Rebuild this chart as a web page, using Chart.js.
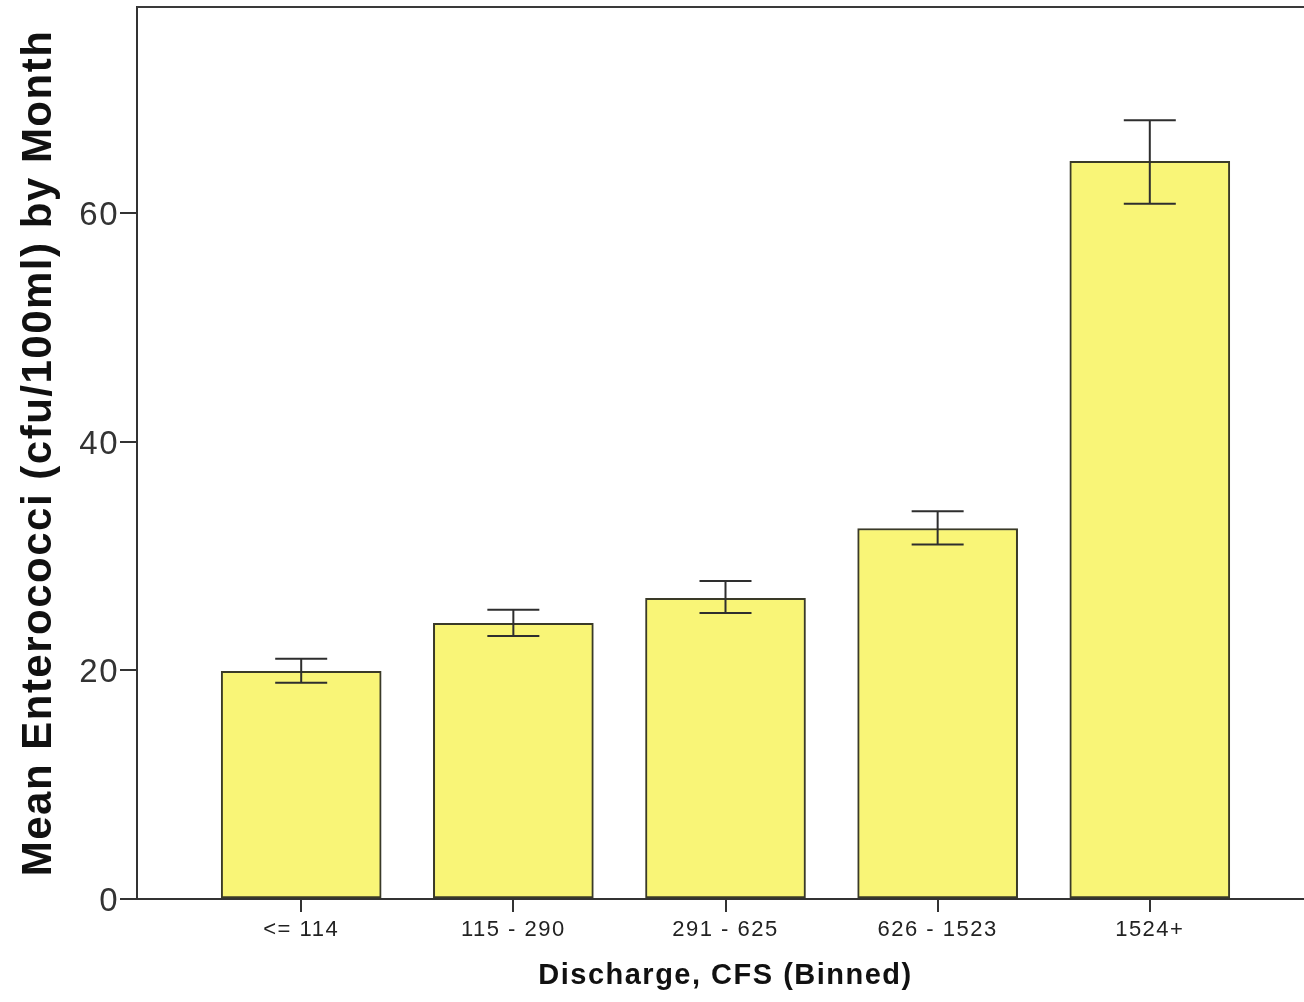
<!DOCTYPE html>
<html>
<head>
<meta charset="utf-8">
<script src="https://cdn.jsdelivr.net/npm/chart.js@4/dist/chart.umd.min.js"></script>
<style>
  html, body { margin: 0; padding: 0; background: #fff; overflow: hidden; }
  #wrap { position: relative; width: 1330px; height: 1002px; }
</style>
</head>
<body>
<div id="wrap"><canvas id="c"></canvas></div>
<script>
// ---- data ----
const categories = ['<= 114', '115 - 290', '291 - 625', '626 - 1523', '1524+'];
const meanValues = [19.9, 24.1, 26.3, 32.4, 64.5];
const errLow     = [18.9, 23.0, 25.0, 31.0, 60.8];
const errHigh    = [21.0, 25.3, 27.8, 33.9, 68.1];
const yTicks     = [0, 20, 40, 60];
const yTitle = 'Mean Enterococci (cfu/100ml) by Month';
const xTitle = 'Discharge, CFS (Binned)';

const AXIS = '#333333';

const spacingPlugin = {
  id: 'spacing',
  beforeDraw(chart) { chart.ctx.letterSpacing = '1.5px'; },
  beforeDatasetsDraw(chart) { chart.ctx.letterSpacing = '0px'; }
};

const framePlugin = {
  id: 'frame',
  afterDatasetsDraw(chart) {
    const { ctx, chartArea, scales } = chart;
    ctx.save();
    ctx.strokeStyle = '#3a3a3a';
    ctx.lineWidth = 2;
    ctx.beginPath();
    ctx.moveTo(chartArea.left, chartArea.top);
    ctx.lineTo(chartArea.right, chartArea.top);
    ctx.stroke();
    ctx.strokeStyle = '#2e2e2e';
    ctx.lineWidth = 2;
    const cap = 26;
    meanValues.forEach((v, i) => {
      const x = scales.x.getPixelForValue(i);
      const yl = scales.y.getPixelForValue(errLow[i]);
      const yh = scales.y.getPixelForValue(errHigh[i]);
      ctx.beginPath();
      ctx.moveTo(x, yl); ctx.lineTo(x, yh);
      ctx.moveTo(x - cap, yl); ctx.lineTo(x + cap, yl);
      ctx.moveTo(x - cap, yh); ctx.lineTo(x + cap, yh);
      ctx.stroke();
    });
    ctx.restore();
  }
};

new Chart(document.getElementById('c'), {
  type: 'bar',
  data: {
    datasets: [{
      data: meanValues.map((v, i) => ({ x: i, y: v })),
      backgroundColor: '#F9F577',
      borderColor: '#3a3a28',
      borderWidth: 2,
      borderSkipped: false,
      barThickness: 160
    }]
  },
  options: {
    responsive: true,
    maintainAspectRatio: false,
    animation: false,
    layout: { padding: { left: 0, right: 16, top: 7, bottom: 0 } },
    plugins: { legend: { display: false }, tooltip: { enabled: false }, title: { display: false } },
    scales: {
      x: {
        type: 'linear',
        offset: false,
        min: -0.774,
        max: 4.774,
        afterBuildTicks: s => { s.ticks = categories.map((_, i) => ({ value: i })); },
        afterFit: s => { s.height = 103; s.paddingLeft = 0; s.paddingRight = 0; },
        ticks: {
          callback: v => categories[v] ?? '',
          color: '#222',
          font: { family: 'Liberation Sans, Arial, sans-serif', size: 22 },
          padding: 5,
          maxRotation: 0,
          autoSkip: false
        },
        grid: { offset: false, drawOnChartArea: false, tickLength: 13, color: AXIS, lineWidth: 2 },
        border: { display: true, color: AXIS, width: 2 },
        title: {
          display: true,
          text: xTitle,
          color: '#111',
          font: { family: 'Liberation Sans, Arial, sans-serif', size: 29, weight: 'bold' },
          padding: { top: 0, bottom: 9 }
        }
      },
      y: {
        min: 0,
        max: 78,
        afterBuildTicks: s => { s.ticks = yTicks.map(v => ({ value: v })); },
        afterFit: s => { s.width = 137; s.paddingTop = 0; s.paddingBottom = 0; },
        ticks: {
          color: '#333',
          font: { family: 'Liberation Sans, Arial, sans-serif', size: 33 },
          padding: 1,
          labelOffset: 3
        },
        grid: { drawOnChartArea: false, tickLength: 17, color: AXIS, lineWidth: 2 },
        border: { display: true, color: AXIS, width: 2 },
        title: {
          display: true,
          text: yTitle,
          color: '#111',
          font: { family: 'Liberation Sans, Arial, sans-serif', size: 42, weight: 'bold' },
          padding: { top: 14, bottom: 0 }
        }
      }
    }
  },
  plugins: [spacingPlugin, framePlugin]
});
</script>
</body>
</html>
